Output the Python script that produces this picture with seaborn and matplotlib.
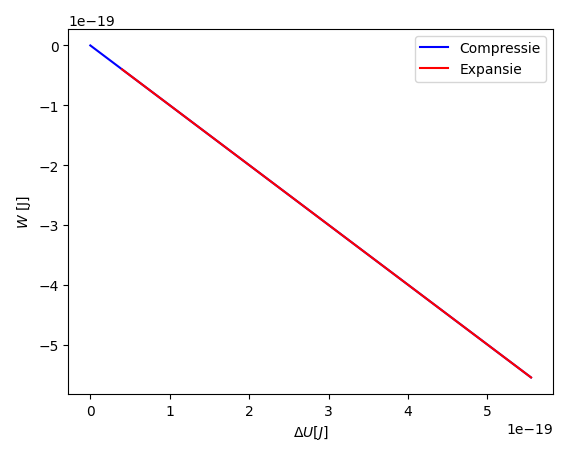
import matplotlib
matplotlib.use("Agg")
import matplotlib.pyplot as plt
import seaborn as sns

# data (J)
compressie_du = [0.0, 5.55e-19]
compressie_w = [0.0, -5.55e-19]
expansie_du = [0.4e-19, 5.55e-19]
expansie_w = [-0.4e-19, -5.55e-19]

fig, ax = plt.subplots(figsize=(5.69, 4.52), dpi=100)
sns.lineplot(x=compressie_du, y=compressie_w, color="blue", label="Compressie", sort=False, ax=ax)
sns.lineplot(x=expansie_du, y=expansie_w, color="red", label="Expansie", sort=False, ax=ax)
ax.set_xlabel(r"$\Delta U [J]$")
ax.set_ylabel(r"$W$ [J]")
ax.legend(loc="upper right")
fig.subplots_adjust(left=0.12, right=0.972, bottom=0.126, top=0.934)
fig.savefig("out.png", dpi=100)
